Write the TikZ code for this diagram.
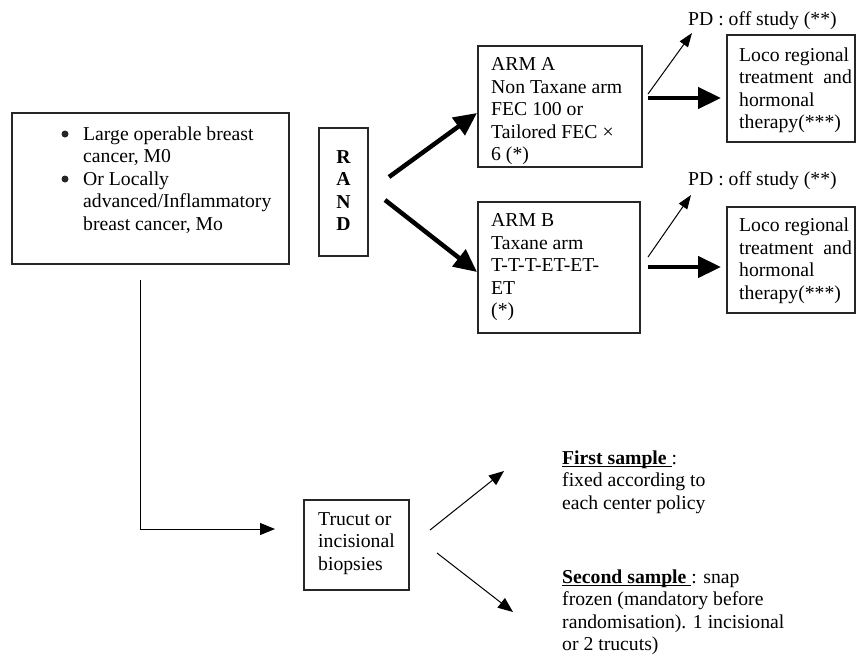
\documentclass[tikz,border=0pt]{standalone}
\usepackage{fontspec}
\setmainfont{Liberation Serif}
\usetikzlibrary{arrows.meta}
\newcommand\myul[1]{\setbox0\hbox{#1}\rlap{\rule[-3pt]{\wd0}{1.1pt}}\box0}
\begin{document}
\begin{tikzpicture}[x=1pt,y=-1pt,
  box/.style={draw=black!85,line width=1.3pt,inner sep=0pt,rectangle},
  txt/.style={inner sep=0pt,anchor=north west,align=left,font=\fontsize{19.7}{22.5}\selectfont},
  lbl/.style={inner sep=0pt,anchor=base west,font=\fontsize{19.7}{22.5}\selectfont},
  bullet/.style={circle,fill=black!85,inner sep=0pt,minimum size=7pt},
  bigarrow/.style={line width=4.5pt,-{Triangle[length=23pt,width=21pt]}},
  thinarrow/.style={line width=1pt,-{Triangle[length=14pt,width=10pt]}},
  midarrow/.style={line width=1pt,-{Triangle[length=15pt,width=12pt]}}]
\useasboundingbox (0,0) rectangle (856,654);
% boxes
\node[box,minimum width=277pt,minimum height=151pt] (main) at (150.5,188.5) {};
\node[box,minimum width=49pt,minimum height=128pt] (rand) at (343.5,192) {};
\node[box,minimum width=164pt,minimum height=121pt] (armA) at (560,106.5) {};
\node[box,minimum width=162pt,minimum height=131pt] (armB) at (559,267.5) {};
\node[box,minimum width=128pt,minimum height=107pt] (locoA) at (791,88.5) {};
\node[box,minimum width=128pt,minimum height=106pt] (locoB) at (791,260) {};
\node[box,minimum width=105pt,minimum height=90pt] (trucut) at (356.5,545) {};
% texts
\node[bullet] (b1) at (65,134) {};
\node[bullet] (b2) at (65,179) {};
\node[txt] (maint) at (83,124.3) {\strut Large operable breast\\cancer, M0\\Or Locally\\advanced/Inflammatory\\breast cancer, Mo};
\node[txt,align=center,anchor=north] (randt) at (343.5,147.3) {\strut\textbf{R}\\\textbf{A}\\\textbf{N}\\\textbf{D}};
\node[txt] (armAt) at (491,55) {\strut ARM A\\Non Taxane arm\\FEC 100 or\\Tailored FEC ×\\6 (*)};
\node[txt] (armBt) at (491,211) {\strut ARM B\\Taxane arm\\T-T-T-ET-ET-\\ET\\(*)};
\node[txt] (locoAt) at (739,45.3) {\strut Loco regional\\treatment\ \ and\\hormonal\\therapy(***)};
\node[txt] (locoBt) at (739,216) {\strut Loco regional\\treatment\ \ and\\hormonal\\therapy(***)};
\node[lbl] (pdA) at (688,25) {PD : off study (**)};
\node[lbl] (pdB) at (688,185) {PD : off study (**)};
\node[txt] (trucutt) at (318,509.3) {\strut Trucut or\\incisional\\biopsies};
\node[txt] (first) at (562,448.3) {\strut\myul{\textbf{First sample }}:\\fixed according to\\each center policy};
\node[txt] (second) at (562,567.3) {\strut\myul{\textbf{Second sample }}: snap\\frozen (mandatory before\\randomisation). 1 incisional\\or 2 trucuts)};
% connector end points
\coordinate (r1) at (389,177);
\coordinate (r1e) at (477,113);
\coordinate (r2) at (385,200);
\coordinate (r2e) at (477,272);
\coordinate (a1) at (648,94);
\coordinate (a1e) at (692,33);
\coordinate (a2) at (648,98);
\coordinate (a2e) at (721,98);
\coordinate (b1s) at (648,257);
\coordinate (b1e) at (691,195);
\coordinate (b2s) at (648,267);
\coordinate (b2e) at (721,267);
\coordinate (m1) at (140,280);
\coordinate (m1e) at (275,529);
\coordinate (t1) at (430,530);
\coordinate (t1e) at (504,471);
\coordinate (t2) at (437,553);
\coordinate (t2e) at (513,612);
% connectors
\draw[bigarrow] (r1) -- (r1e);
\draw[bigarrow] (r2) -- (r2e);
\draw[thinarrow] (a1) -- (a1e);
\draw[bigarrow] (a2) -- (a2e);
\draw[thinarrow] (b1s) -- (b1e);
\draw[bigarrow] (b2s) -- (b2e);
\draw[midarrow] (m1) |- (m1e);
\draw[midarrow] (t1) -- (t1e);
\draw[midarrow] (t2) -- (t2e);
\end{tikzpicture}
\end{document}
